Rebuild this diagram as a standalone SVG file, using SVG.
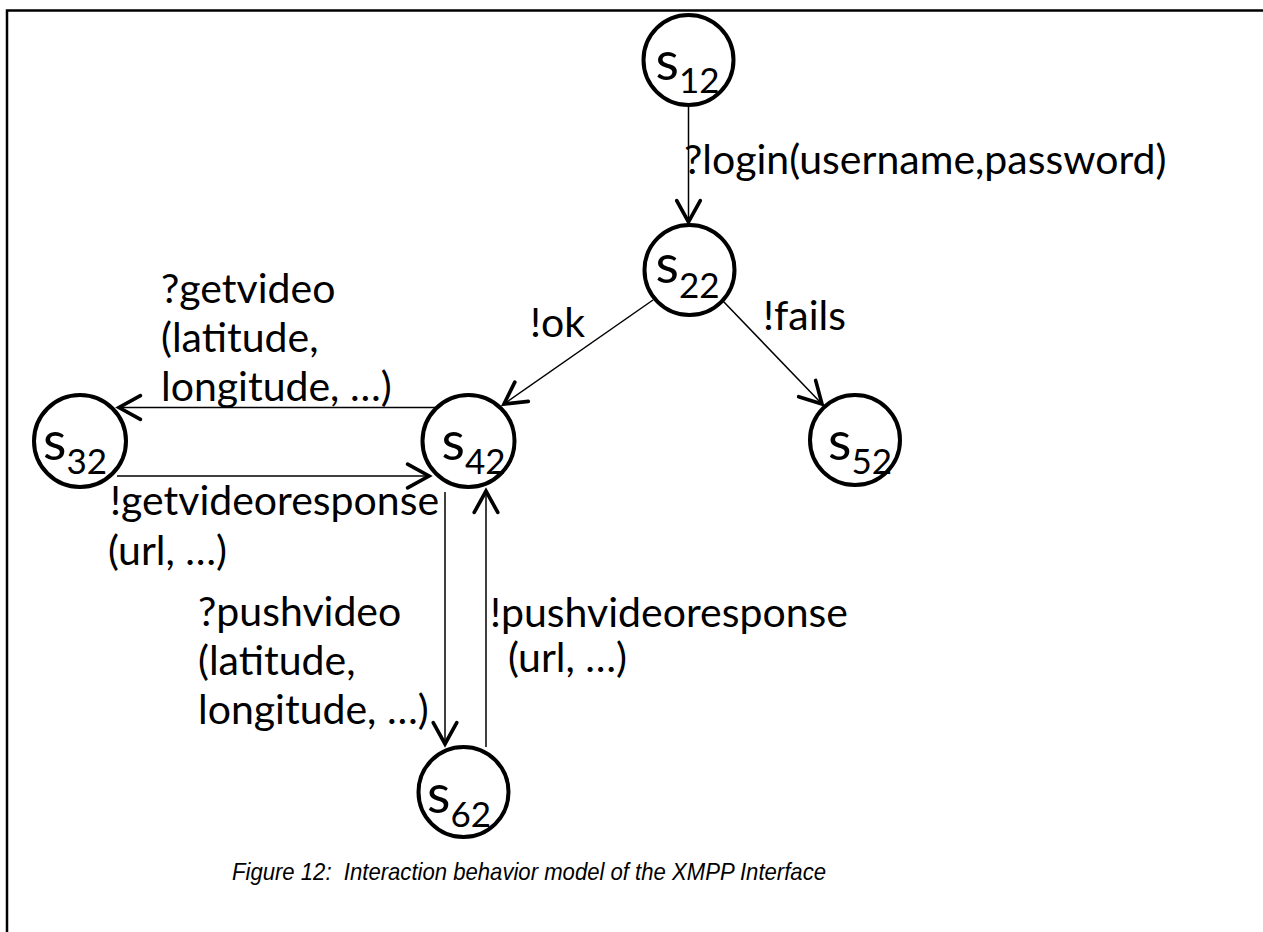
<svg xmlns="http://www.w3.org/2000/svg" width="1263" height="932" viewBox="0 0 1263 932">
  <style>
    .frame { fill: none; stroke: #000; stroke-width: 2.5; }
    .state circle { fill: #fff; stroke: #000; stroke-width: 4; }
    .state text { font-family: Lato, "Open Sans", sans-serif; font-size: 54px; fill: #000; text-anchor: middle; }
    .state tspan { font-size: 35px; }
    .edge { fill: none; stroke: #000; stroke-width: 1.5; marker-end: url(#open-arrow); }
    .lbl { font-family: Lato, "Open Sans", sans-serif; font-size: 41px; fill: #000; }
    .caption { font-family: "Liberation Sans", Arial, sans-serif; font-style: italic; font-size: 24px; fill: #000; text-anchor: middle; }
  </style>
  <defs>
    <marker id="open-arrow" markerUnits="userSpaceOnUse" markerWidth="30" markerHeight="30" viewBox="-24 -14 28 28" refX="0" refY="0" orient="auto">
      <path d="M-20,-11 L0,0 L-20,11" fill="none" stroke="#000" stroke-width="3.4" stroke-linecap="round" stroke-linejoin="miter"/>
    </marker>
  </defs>

  <rect width="1263" height="932" fill="#fff"/>
  <path class="frame" d="M7,932 V10.5 H1263"/>

  <!-- transitions -->
  <g id="connectors">
    <path class="edge" d="M688.5,107 V222"/>
    <path class="edge" d="M653,300 L504,404"/>
    <path class="edge" d="M722,300 L822,404"/>
    <path class="edge" d="M437,407.5 H119"/>
    <path class="edge" d="M117,476 H429"/>
    <path class="edge" d="M445,492 V744"/>
    <path class="edge" d="M486,747 V491"/>
  </g>

  <!-- states -->
  <g id="s12" class="state">
    <circle cx="688.5" cy="60" r="45"/>
    <text x="687.5" y="80">s<tspan dy="13">12</tspan></text>
  </g>
  <g id="s22" class="state">
    <circle cx="689.5" cy="270" r="45"/>
    <text x="687.5" y="283">s<tspan dy="15">22</tspan></text>
  </g>
  <g id="s32" class="state">
    <circle cx="80" cy="441" r="46"/>
    <text x="75" y="460">s<tspan dy="14">32</tspan></text>
  </g>
  <g id="s42" class="state">
    <circle cx="468.5" cy="441" r="46"/>
    <text x="473.5" y="460">s<tspan dy="14">42</tspan></text>
  </g>
  <g id="s52" class="state">
    <circle cx="855" cy="440" r="45"/>
    <text x="860" y="460">s<tspan dy="14">52</tspan></text>
  </g>
  <g id="s62" class="state">
    <circle cx="463.5" cy="792" r="45"/>
    <text x="459" y="813">s<tspan dy="14">62</tspan></text>
  </g>

  <!-- transition labels -->
  <g id="labels">
    <text class="lbl" x="684" y="174">?login(username,password)</text>
    <text class="lbl" x="530" y="337">!ok</text>
    <text class="lbl" x="763" y="330">!fails</text>
    <text class="lbl" x="161" y="303">?getvideo</text>
    <text class="lbl" x="161" y="352">(latitude,</text>
    <text class="lbl" x="161" y="401">longitude, …)</text>
    <text class="lbl" x="110" y="515">!getvideoresponse</text>
    <text class="lbl" x="108" y="565">(url, …)</text>
    <text class="lbl" x="198" y="626">?pushvideo</text>
    <text class="lbl" x="198" y="675">(latitude,</text>
    <text class="lbl" x="198" y="724">longitude, …)</text>
    <text class="lbl" x="490" y="627">!pushvideoresponse</text>
    <text class="lbl" x="508" y="672">(url, …)</text>
  </g>

  <text class="caption" x="529" y="880" textLength="594" lengthAdjust="spacingAndGlyphs" xml:space="preserve">Figure 12:  Interaction behavior model of the XMPP Interface</text>
</svg>
